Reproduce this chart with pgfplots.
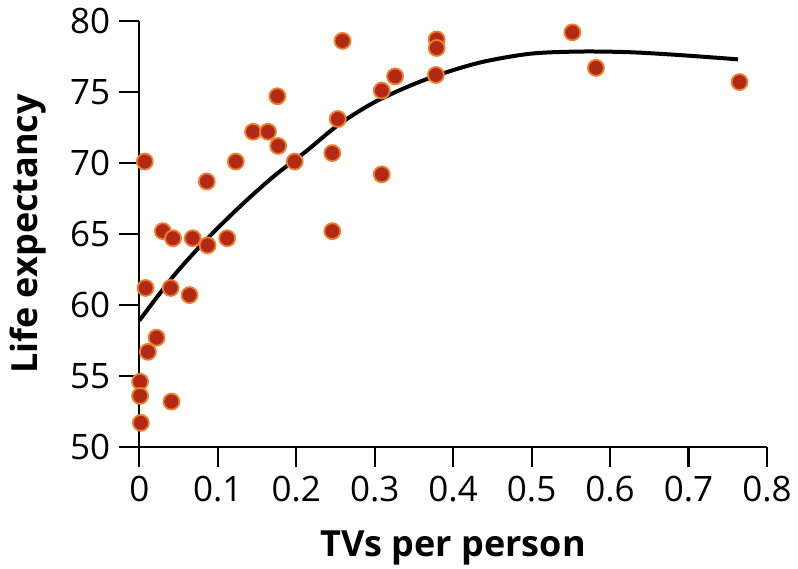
\documentclass[border=0pt]{standalone}
\usepackage{pgfplots}
\pgfplotsset{compat=1.18}
\usepackage{fontspec}
\setmainfont{Open Sans}
\definecolor{dotfill}{RGB}{178,42,22}
\definecolor{dotedge}{RGB}{236,128,48}
\begin{document}
\begin{tikzpicture}
\begin{axis}[
  scale only axis,
  width=313.85pt, height=213pt,
  xmin=0, xmax=0.8, ymin=50, ymax=80,
  axis lines=left,
  axis line style={line width=1.2pt, -},
  every tick/.style={line width=1.1pt, black},
  tick align=outside,
  major tick length=10pt,
  xtick={0,0.1,0.2,0.3,0.4,0.5,0.6,0.7,0.8},
  xticklabels={0,0.1,0.2,0.3,0.4,0.5,0.6,0.7,0.8},
  ytick={50,55,60,65,70,75,80},
  /pgf/number format/assume math mode=true,
  tick label style={font=\fontsize{17.5}{20}\selectfont},
  xticklabel style={yshift=-1pt},
  yticklabel style={xshift=-1pt},
  xlabel={TVs per person},
  ylabel={Life expectancy},
  xlabel style={at={(axis description cs:0.5,-0.237)}, anchor=center, font=\fontsize{18}{21}\selectfont\bfseries},
  ylabel style={at={(axis description cs:-0.178,0.5)}, anchor=center, rotate=0, font=\fontsize{18}{21}\selectfont\bfseries},
  clip=false,
]
\coordinate (O) at (rel axis cs:0,0);
\addplot[black, line width=2pt, smooth, tension=0.5] coordinates {
 (0,58.9) (0.043,62.0) (0.0854,64.6) (0.1276,66.9) (0.170,69.0) (0.212,70.8)
 (0.254,72.7) (0.297,74.2) (0.339,75.3) (0.381,76.2) (0.436,77.1) (0.499,77.7)
 (0.563,77.85) (0.626,77.8) (0.689,77.6) (0.763,77.3)
};
\addplot[only marks, mark=*, mark size=4pt,
  mark options={fill=dotfill, draw=dotedge, line width=0.9pt}] coordinates {
 (0.259,78.6) (0.326,76.1) (0.309,75.1) (0.176,74.7) (0.253,73.1)
 (0.145,72.2) (0.164,72.2) (0.177,71.2) (0.007,70.1) (0.123,70.1)
 (0.198,70.1) (0.246,70.7) (0.309,69.2) (0.086,68.7) (0.246,65.2)
 (0.030,65.2) (0.043,64.7) (0.068,64.7) (0.087,64.2) (0.112,64.7)
 (0.008,61.2) (0.040,61.2) (0.064,60.7) (0.022,57.7) (0.011,56.7)
 (0.001,54.6) (0.001,53.6) (0.041,53.2) (0.002,51.7) (0.379,78.7)
 (0.379,78.1) (0.378,76.2) (0.552,79.2) (0.582,76.7) (0.765,75.7)
};
\end{axis}
\pgfresetboundingbox
\path (O) ++(-69.65pt,-60.5pt) rectangle ++(399pt,284pt);
\end{tikzpicture}
\end{document}
